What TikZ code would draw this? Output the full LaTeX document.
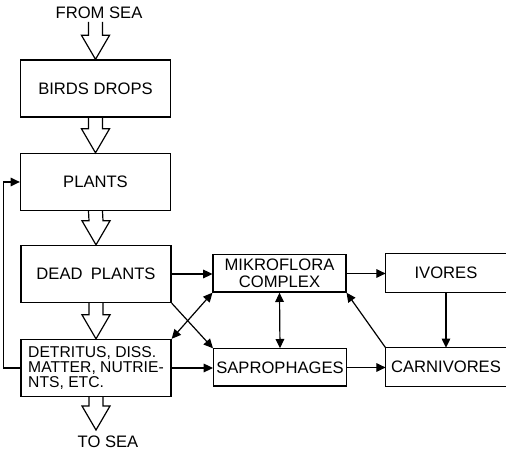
\documentclass[tikz,border=0pt]{standalone}
\usepackage{fontspec}
\setmainfont{Liberation Sans}
\usetikzlibrary{arrows.meta,calc}

\newcommand{\hollowarrow}[2]{%
\draw ($(#1)+(-7,0)$) -- ($(#2)+(-7,-24)$) -- ($(#2)+(-14,-24)$) -- (#2)
  -- ($(#2)+(14,-24)$) -- ($(#2)+(7,-24)$) -- ($(#1)+(7,0)$);}

\begin{document}
\begin{tikzpicture}[x=0.02646cm,y=-0.02646cm,line width=0.9pt,
  font=\fontsize{12.5}{12.5}\selectfont,
  box/.style={draw,inner sep=2pt,minimum width=113pt,minimum height=43pt},
  smallbox/.style={draw,inner sep=0pt,minimum width=100pt,minimum height=28pt,align=center},
  cutbox/.style={inner sep=0pt,minimum width=90pt,minimum height=28pt},
  arr/.style={-{Triangle[length=7pt,width=6.5pt]}},
  twoway/.style={{Triangle[length=7pt,width=6.5pt]}-{Triangle[length=7pt,width=6.5pt]}}]
\useasboundingbox (0,0) rectangle (506,450);
\node (fromsea) at (99,13) {FROM SEA};
\coordinate (fromtop) at (95.5,22);
\node[box] (birds) at (95.5,88.5) {BIRDS DROPS};
\node[box] (plants) at (95.5,182) {PLANTS};
\node[box] (dead) at (96,274) {DEAD\enspace PLANTS};
\node[box,align=left,inner xsep=3pt,font=\fontsize{11.8}{11.5}\selectfont] (detritus) at (96,368) {DETRITUS, DISS.\\MATTER, NUTRIE-\\NTS, ETC.};
\coordinate (seatip) at (96,430);
\node (tosea) at (108,442) {TO SEA};
\node[smallbox] (mikro) at (279.5,273.5) {MIKROFLORA\\COMPLEX};
\node[smallbox] (sapro) at (280,367.5) {SAPROPHAGES};
\node[cutbox] (ivores) at (446,273) {IVORES};
\node[cutbox] (carni) at (446,367) {CARNIVORES};
\draw (ivores.north east) -- (ivores.north west) -- (ivores.south west) -- (ivores.south east);
\draw (carni.north east) -- (carni.north west) -- (carni.south west) -- (carni.south east);
\hollowarrow{fromtop}{birds.north}
\hollowarrow{birds.south}{plants.north}
\hollowarrow{plants.south}{dead.north}
\hollowarrow{dead.south}{detritus.north}
\hollowarrow{detritus.south}{seatip}
\draw[arr] (dead.east) -- (dead.east -| mikro.west);
\draw[arr] (detritus.east) -- (detritus.east -| sapro.west);
\draw[arr] (dead.south east) -- (sapro.north west);
\draw[twoway] (mikro.south west) -- (detritus.north east);
\draw[twoway] (mikro.south) -- (sapro.north);
\draw[arr] (mikro.east) -- (mikro.east -| ivores.west);
\draw[arr] (ivores.south) -- (carni.north);
\draw[arr] (carni.north west) -- (mikro.south east);
\draw[arr] (sapro.east) -- (sapro.east -| carni.west);
\draw[arr] (detritus.west) -- ++(-17,0) |- (plants.west);
\end{tikzpicture}
\end{document}
